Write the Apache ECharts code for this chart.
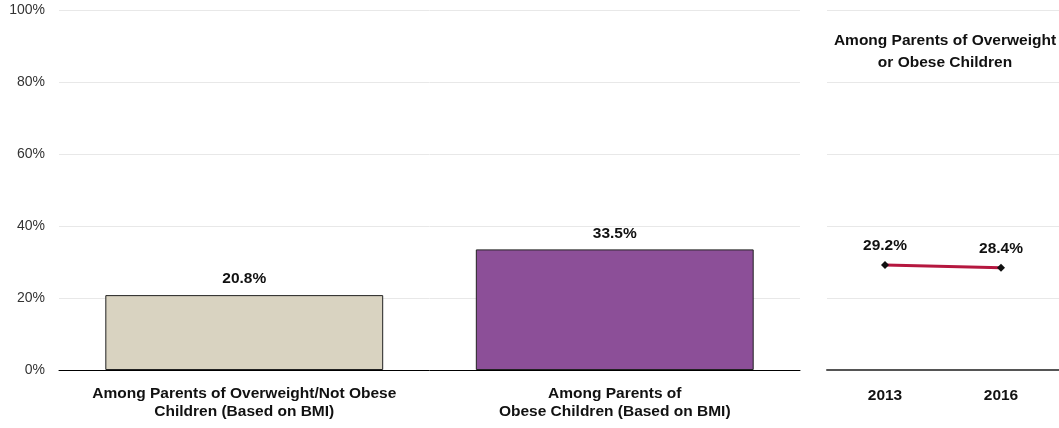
<!DOCTYPE html>
<html><head><meta charset="utf-8">
<script src="https://cdn.jsdelivr.net/npm/echarts@6/dist/echarts.min.js"></script>
<style>html,body{margin:0;padding:0;background:#fff}#c{width:1059px;height:428px}</style>
</head><body><div id="c"></div>
<script>
var barCategories = ['Among Parents of Overweight/Not Obese\nChildren (Based on BMI)', 'Among Parents of\nObese Children (Based on BMI)'];
var barValues = [20.8, 33.5];
var barColors = ['#D9D3C1', '#8C4F98'];
var lineCategories = ['2013', '2016'];
var lineValues = [29.2, 28.4];
var yTicks = [0, 20, 40, 60, 80, 100];
var lineTitle = 'Among Parents of Overweight\nor Obese Children';

var FONT = '"Liberation Sans Narrow", "Arial Narrow", "Liberation Sans", Arial, sans-serif';
var chart = echarts.init(document.getElementById('c'), null, {renderer: 'canvas'});
chart.setOption({
  animation: false,
  textStyle: {fontFamily: FONT},
  title: {
    text: lineTitle, left: 940, top: 25, textAlign: 'center',
    textStyle: {fontFamily: FONT, fontSize: 15.5, fontWeight: 'bold', color: '#111', lineHeight: 22}
  },
  grid: [
    {left: 59, top: 10, width: 741, height: 360},
    {left: 827, top: 10, width: 232, height: 360}
  ],
  xAxis: [
    {type: 'category', gridIndex: 0, data: barCategories,
     axisLine: {lineStyle: {color: '#000', width: 1}}, axisTick: {show: false},
     axisLabel: {interval: 0, fontFamily: FONT, fontSize: 15.5, fontWeight: 'bold', color: '#111', lineHeight: 18, margin: 15}},
    {type: 'category', gridIndex: 1, data: lineCategories,
     axisLine: {lineStyle: {color: '#555', width: 2}}, axisTick: {show: false},
     axisLabel: {interval: 0, fontFamily: FONT, fontSize: 15.5, fontWeight: 'bold', color: '#111', margin: 18}}
  ],
  yAxis: [
    {type: 'value', gridIndex: 0, min: 0, max: 100, interval: 20,
     axisLine: {show: false}, axisTick: {show: false},
     splitLine: {lineStyle: {color: '#E8E8E8', width: 1}},
     axisLabel: {fontFamily: '"Liberation Sans", Arial, sans-serif', fontSize: 14, color: '#333', margin: 14,
       formatter: function (v) { return yTicks.indexOf(v) >= 0 ? v + '%' : ''; }}},
    {type: 'value', gridIndex: 1, min: 0, max: 100, interval: 20,
     axisLine: {show: false}, axisTick: {show: false}, axisLabel: {show: false},
     splitLine: {lineStyle: {color: '#E8E8E8', width: 1}}}
  ],
  series: [
    {type: 'bar', xAxisIndex: 0, yAxisIndex: 0, barWidth: '75%',
     data: barValues.map(function (v, i) { return {value: v, itemStyle: {color: barColors[i]}}; }),
     itemStyle: {borderColor: '#222', borderWidth: 1},
     label: {show: true, position: 'top', distance: 8, fontFamily: FONT, fontSize: 15.5, fontWeight: 'bold', color: '#111',
       formatter: function (p) { return p.value.toFixed(1) + '%'; }}},
    {type: 'line', xAxisIndex: 1, yAxisIndex: 1, data: lineValues,
     lineStyle: {color: '#B5173F', width: 3},
     symbol: 'diamond', symbolSize: 8, itemStyle: {color: '#111'},
     label: {show: true, position: 'top', distance: 7, fontFamily: FONT, fontSize: 15.5, fontWeight: 'bold', color: '#111',
       formatter: function (p) { return p.value.toFixed(1) + '%'; }}}
  ]
});
</script></body></html>
